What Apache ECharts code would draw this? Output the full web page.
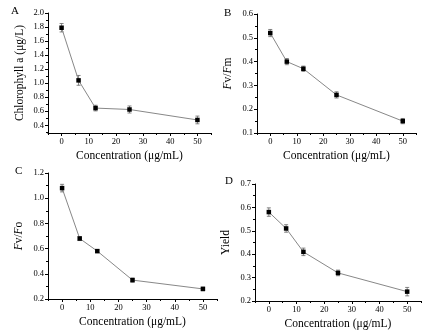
<!DOCTYPE html>
<html>
<head>
<meta charset="utf-8">
<script src="https://cdn.jsdelivr.net/npm/echarts@6/dist/echarts.min.js"></script>
<style>
html,body{margin:0;padding:0;background:#fff;}
#main{width:429px;height:333px;}
</style>
</head>
<body>
<div id="main"></div>
<script>
var dom = document.getElementById("main");
var chart = echarts.init(dom);

// concentrations (ug/mL)
var conc = [0, 6.25, 12.5, 25, 50];

// panel A: chlorophyll a
var chlA = [1.79, 1.04, 0.645, 0.625, 0.476];
var chlA_err = [0.06, 0.07, 0.04, 0.05, 0.055];
// panel B: Fv/Fm
var fvfm = [0.52, 0.40, 0.37, 0.26, 0.15];
var fvfm_err = [0.015, 0.013, 0.011, 0.013, 0.011];
// panel C: Fv/Fo
var fvfo = [1.08, 0.68, 0.58, 0.35, 0.28];
var fvfo_err = [0.03, 0.016, 0.012, 0.016, 0.014];
// panel D: Yield
var yieldv = [0.58, 0.51, 0.41, 0.32, 0.24];
var yield_err = [0.018, 0.016, 0.016, 0.012, 0.018];

var xTicks = [0, 10, 20, 30, 40, 50];
var xMinor = [-5, 5, 15, 25, 35, 45, 55];
var yTicksA = [0.4, 0.6, 0.8, 1.0, 1.2, 1.4, 1.6, 1.8, 2.0];
var yMinorA = [0.3, 0.5, 0.7, 0.9, 1.1, 1.3, 1.5, 1.7, 1.9];
var yTicksB = [0.1, 0.2, 0.3, 0.4, 0.5, 0.6];
var yMinorB = [0.15, 0.25, 0.35, 0.45, 0.55];
var yTicksC = [0.2, 0.4, 0.6, 0.8, 1.0, 1.2];
var yMinorC = [0.3, 0.5, 0.7, 0.9, 1.1];
var yTicksD = [0.2, 0.3, 0.4, 0.5, 0.6, 0.7];
var yMinorD = [0.25, 0.35, 0.45, 0.55, 0.65];

var font = 'Liberation Serif';

var panels = [
  {grid: {left: 48, top: 13, width: 163, height: 120}, ymin: 0.29, ymax: 2.0, ticks: yTicksA, minor: yMinorA,
   name: 'Chlorophyll a (\u03bcg/L)', gap: 22, y: chlA, err: chlA_err},
  {grid: {left: 257, top: 14, width: 159, height: 119}, ymin: 0.1, ymax: 0.6, ticks: yTicksB, minor: yMinorB,
   name: '{i|F}v/{i|F}m', gap: 23, y: fvfm, err: fvfm_err},
  {grid: {left: 48, top: 173, width: 169, height: 126}, ymin: 0.2, ymax: 1.2, ticks: yTicksC, minor: yMinorC,
   name: '{i|F}v/{i|F}o', gap: 23, y: fvfo, err: fvfo_err},
  {grid: {left: 255, top: 184, width: 166, height: 117}, ymin: 0.2, ymax: 0.7, ticks: yTicksD, minor: yMinorD,
   name: 'Yield', gap: 23, y: yieldv, err: yield_err}
];

var grids = [], xAxes = [], yAxes = [], series = [];

panels.forEach(function (p, i) {
  grids.push(p.grid);
  // main x axis
  xAxes.push({
    type: 'value', gridIndex: i, min: -5, max: 55,
    name: 'Concentration (\u03bcg/mL)', nameLocation: 'middle', nameGap: 17,
    nameTextStyle: {fontFamily: font, fontSize: 11.5, color: '#000'},
    axisLine: {show: true, onZero: false, lineStyle: {color: '#000', width: 1}},
    axisTick: {show: true, inside: false, length: 3, customValues: xTicks, lineStyle: {color: '#000'}},
    axisLabel: {customValues: xTicks, fontFamily: font, fontSize: 8.5, color: '#000', margin: 4},
    splitLine: {show: false}
  });
  // minor x ticks
  xAxes.push({
    type: 'value', gridIndex: i, min: -5, max: 55, position: 'bottom',
    axisLine: {show: false, onZero: false},
    axisTick: {show: true, length: 2, customValues: xMinor, lineStyle: {color: '#000'}},
    axisLabel: {show: false}, splitLine: {show: false}
  });
  yAxes.push({
    type: 'value', gridIndex: i, min: p.ymin, max: p.ymax,
    name: p.name, nameLocation: 'middle', nameGap: p.gap,
    nameTextStyle: {fontFamily: font, fontSize: 11.5, color: '#000',
      rich: {i: {fontFamily: font, fontStyle: 'italic', fontSize: 11.5, color: '#000'}}},
    axisLine: {show: true, onZero: false, lineStyle: {color: '#000', width: 1}},
    axisTick: {show: true, length: 3, customValues: p.ticks, lineStyle: {color: '#000'}},
    axisLabel: {customValues: p.ticks, fontFamily: font, fontSize: 8.5, color: '#000', margin: 4,
      formatter: function (v) { return v.toFixed(1); }},
    splitLine: {show: false}
  });
  // minor y ticks
  yAxes.push({
    type: 'value', gridIndex: i, min: p.ymin, max: p.ymax, position: 'left',
    axisLine: {show: false, onZero: false},
    axisTick: {show: true, length: 2, customValues: p.minor, lineStyle: {color: '#000'}},
    axisLabel: {show: false}, splitLine: {show: false}
  });

  var pts = conc.map(function (c, k) { return [c, p.y[k]]; });
  var errData = conc.map(function (c, k) { return [c, p.y[k] - p.err[k], p.y[k] + p.err[k]]; });

  series.push({
    type: 'custom', xAxisIndex: i * 2, yAxisIndex: i * 2, data: errData, z: 2, silent: true,
    renderItem: function (params, api) {
      var lo = api.coord([api.value(0), api.value(1)]);
      var hi = api.coord([api.value(0), api.value(2)]);
      var w = 2;
      var st = {stroke: '#666', lineWidth: 0.8};
      return {type: 'group', children: [
        {type: 'line', shape: {x1: lo[0], y1: lo[1], x2: hi[0], y2: hi[1]}, style: st},
        {type: 'line', shape: {x1: lo[0] - w, y1: lo[1], x2: lo[0] + w, y2: lo[1]}, style: st},
        {type: 'line', shape: {x1: hi[0] - w, y1: hi[1], x2: hi[0] + w, y2: hi[1]}, style: st}
      ]};
    }
  });
  series.push({
    type: 'line', xAxisIndex: i * 2, yAxisIndex: i * 2, data: pts, z: 3,
    symbol: 'rect', symbolSize: 4.5, showSymbol: true,
    itemStyle: {color: '#000'},
    lineStyle: {color: '#888', width: 1}
  });
});

var option = {
  backgroundColor: '#fff',
  animation: false,
  grid: grids,
  xAxis: xAxes,
  yAxis: yAxes,
  series: series,
  graphic: [
    {type: 'text', left: 11, top: 6, style: {text: 'A', font: '11px "Liberation Serif"', fill: '#000'}},
    {type: 'text', left: 224, top: 8, style: {text: 'B', font: '11px "Liberation Serif"', fill: '#000'}},
    {type: 'text', left: 15, top: 166, style: {text: 'C', font: '11px "Liberation Serif"', fill: '#000'}},
    {type: 'text', left: 225, top: 176, style: {text: 'D', font: '11px "Liberation Serif"', fill: '#000'}}
  ]
};

chart.setOption(option, true);
</script>
</body>
</html>
